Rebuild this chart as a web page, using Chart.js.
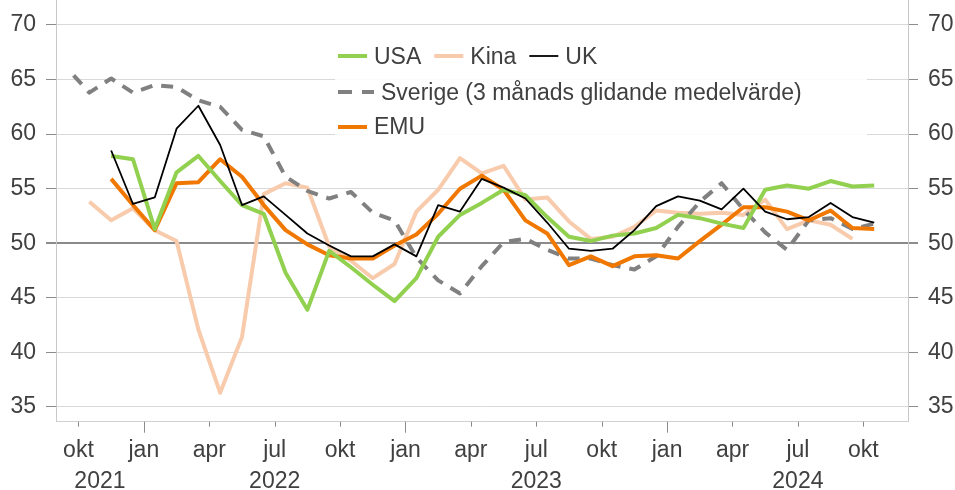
<!DOCTYPE html>
<html>
<head>
<meta charset="utf-8">
<script src="https://cdn.jsdelivr.net/npm/chart.js@4.4.1/dist/chart.umd.min.js"></script>
<style>
  html,body{margin:0;padding:0;background:#fff;}
  #wrap{width:955px;height:490px;}
</style>
</head>
<body>
<div id="wrap"><canvas id="chart" width="955" height="490"></canvas></div>
<script>
// month index 0 = sep 2021 ... 37 = okt 2024
const usa = [null,null,58.0,57.7,51.3,56.5,58.0,55.7,53.5,52.7,47.3,43.9,49.3,47.8,46.2,44.7,46.8,50.6,52.6,53.7,
  54.9,54.4,52.4,50.6,50.2,50.7,50.9,51.4,52.6,52.3,51.8,51.4,54.9,55.3,55.0,55.7,55.2,55.3];
const kina = [null,53.8,52.1,53.2,51.2,50.2,42.1,36.3,41.4,54.5,55.5,55.1,49.7,48.4,46.8,48.1,52.9,54.9,57.8,56.4,
  57.1,54.0,54.2,52.0,50.4,50.6,51.5,53.0,52.8,52.7,52.8,52.6,54.0,51.3,52.1,51.7,50.4,null];
const uk = [null,null,58.5,53.6,54.2,60.5,62.6,59.0,53.5,54.3,52.6,50.9,49.8,48.8,48.8,49.9,48.8,53.5,52.9,55.9,
  55.1,54.1,51.9,49.5,49.3,49.5,51.2,53.4,54.3,53.9,53.1,55.0,52.9,52.2,52.4,53.7,52.4,51.9];
const sverige = [66.0,63.8,65.1,63.8,64.5,64.3,63.1,62.5,60.4,59.8,56.1,54.8,54.1,54.7,52.8,52.1,48.7,46.6,45.4,47.9,
  50.1,50.4,49.4,48.6,48.6,48.0,47.6,48.8,51.5,53.8,55.5,53.1,51.0,49.4,52.1,52.3,51.3,51.8];
const emu = [null,null,55.9,53.5,51.2,55.5,55.6,57.7,56.1,53.5,51.2,49.9,48.9,48.6,48.6,49.8,50.8,52.7,55.0,56.2,
  54.9,52.1,50.9,48.0,48.8,47.9,48.8,48.9,48.6,50.2,51.7,53.3,53.3,52.9,52.1,53.0,51.4,51.3];

const quarterLabels = ["okt","jan","apr","jul","okt","jan","apr","jul","okt","jan","apr","jul","okt"];
const yearLabels = ["2021","2022","2023","2024"];
const yTicks = [35,40,45,50,55,60,65,70];

const X_MIN = -0.53, X_MAX = 38.55;   // axis range in month index
const Y_MIN = 33.65, Y_MAX = 72.29;
const FONT = '"Liberation Sans", Arial, sans-serif';
const TXT = "#404040";

const pts = (arr) => arr.map((v,i) => ({x:i, y:v}));

// tick at start of each quarter month (okt 2021 = boundary between index 0 and 1)
const quarterPos = quarterLabels.map((_,k) => 0.5 + 3*k);

const axisDecor = {
  id:"axisDecor",
  afterDraw(chart){
    const ctx = chart.ctx, xs = chart.scales.x, area = chart.chartArea;
    ctx.save();
    // tick marks, longer at jan
    ctx.strokeStyle = "#8c8c8c"; ctx.lineWidth = 1;
    quarterPos.forEach((p,k) => {
      const px = Math.round(xs.getPixelForValue(p)) + 0.5;
      const len = quarterLabels[k] === "jan" ? 11 : 5;
      ctx.beginPath(); ctx.moveTo(px, area.bottom); ctx.lineTo(px, area.bottom + len); ctx.stroke();
    });
    // year labels centred on the visible part of each year
    ctx.fillStyle = TXT; ctx.font = "23px " + FONT;
    ctx.textAlign = "center"; ctx.textBaseline = "alphabetic";
    yearLabels.forEach((lab,k) => {
      const start = 3.5 + 12*(k-1);
      const c = (Math.max(start, X_MIN) + start + 12) / 2;
      ctx.fillText(lab, xs.getPixelForValue(c), 488);
    });
    ctx.restore();
  }
};

const boxLegend = {
  id:"boxLegend",
  afterDatasetsDraw(chart){
    const ctx = chart.ctx;
    const ds = chart.data.datasets;
    ctx.save();
    ctx.fillStyle = "rgba(255,255,255,0.88)";
    ctx.fillRect(335, 33, 532, 110);
    ctx.font = "23px " + FONT;
    ctx.textBaseline = "alphabetic";
    ctx.textAlign = "left";
    const rows = [[0,1,2],[3],[4]];
    const lineY = [56, 92, 127], baseY = [64, 100, 134];
    rows.forEach((row,r) => {
      let x = 338;
      row.forEach(i => {
        const d = ds[i];
        ctx.strokeStyle = d.borderColor; ctx.lineWidth = d.borderWidth; ctx.lineCap = "butt";
        let w = 29;
        if (d.borderDash && d.borderDash.length){
          w = 36;
          ctx.setLineDash([14,10]);
        } else ctx.setLineDash([]);
        ctx.beginPath(); ctx.moveTo(x, lineY[r]); ctx.lineTo(x + w, lineY[r]); ctx.stroke();
        ctx.setLineDash([]);
        const tx = x + w + 7;
        ctx.fillStyle = TXT;
        ctx.fillText(d.label, tx, baseY[r]);
        x = tx + ctx.measureText(d.label).width + 13;
      });
    });
    ctx.restore();
  }
};

const yScale = (pos) => ({
  type:"linear", position:pos, min:Y_MIN, max:Y_MAX,
  afterBuildTicks(s){ s.ticks = yTicks.map(v => ({value:v})); },
  afterFit(s){ s.width = pos === "left" ? 56 : 47; s.paddingTop = 0; s.paddingBottom = 0; },
  grid:{
    drawOnChartArea: pos === "left",
    color:(c) => c.tick && c.tick.value === 50 ? "#8a8a8a" : "#d9d9d9",
    lineWidth:(c) => c.tick && c.tick.value === 50 ? 2 : 1,
    tickColor:"#8c8c8c", tickLength:10, drawTicks:true
  },
  border:{color:"#c8c8c8", width:1},
  ticks:{color:TXT, font:{family:FONT, size:23}, padding:10, callback:(v) => String(v)}
});

new Chart(document.getElementById("chart"), {
  type:"line",
  data:{ datasets:[
    {label:"USA", data:pts(usa), borderColor:"#92d050", borderWidth:4, order:1},
    {label:"Kina", data:pts(kina), borderColor:"#f8cbad", borderWidth:4, order:4},
    {label:"UK", data:pts(uk), borderColor:"#000000", borderWidth:1.8, order:0},
    {label:"Sverige (3 månads glidande medelvärde)", data:pts(sverige), borderColor:"#808080", borderWidth:4,
      borderDash:[12,9], borderDashOffset:12, order:3},
    {label:"EMU", data:pts(emu), borderColor:"#f07800", borderWidth:4, order:2}
  ]},
  options:{
    responsive:false, animation:false, devicePixelRatio:1,
    layout:{padding:0},
    elements:{ point:{radius:0, hoverRadius:0}, line:{tension:0, fill:false, borderCapStyle:"butt", borderJoinStyle:"round"} },
    plugins:{ legend:{display:false}, tooltip:{enabled:false} },
    scales:{
      x:{
        type:"linear", min:X_MIN, max:X_MAX,
        afterBuildTicks(s){ s.ticks = quarterPos.map(v => ({value:v})); },
        afterFit(s){ s.height = 68.3; s.paddingLeft = 0; s.paddingRight = 0; },
        grid:{drawOnChartArea:false, drawTicks:false},
        border:{color:"#d0d0d0", width:1},
        ticks:{color:TXT, font:{family:FONT, size:23}, padding:15, maxRotation:0, autoSkip:false,
          callback:(v, i) => quarterLabels[i]}
      },
      y:yScale("left"),
      y2:yScale("right")
    }
  },
  plugins:[boxLegend, axisDecor]
});
</script>
</body>
</html>
